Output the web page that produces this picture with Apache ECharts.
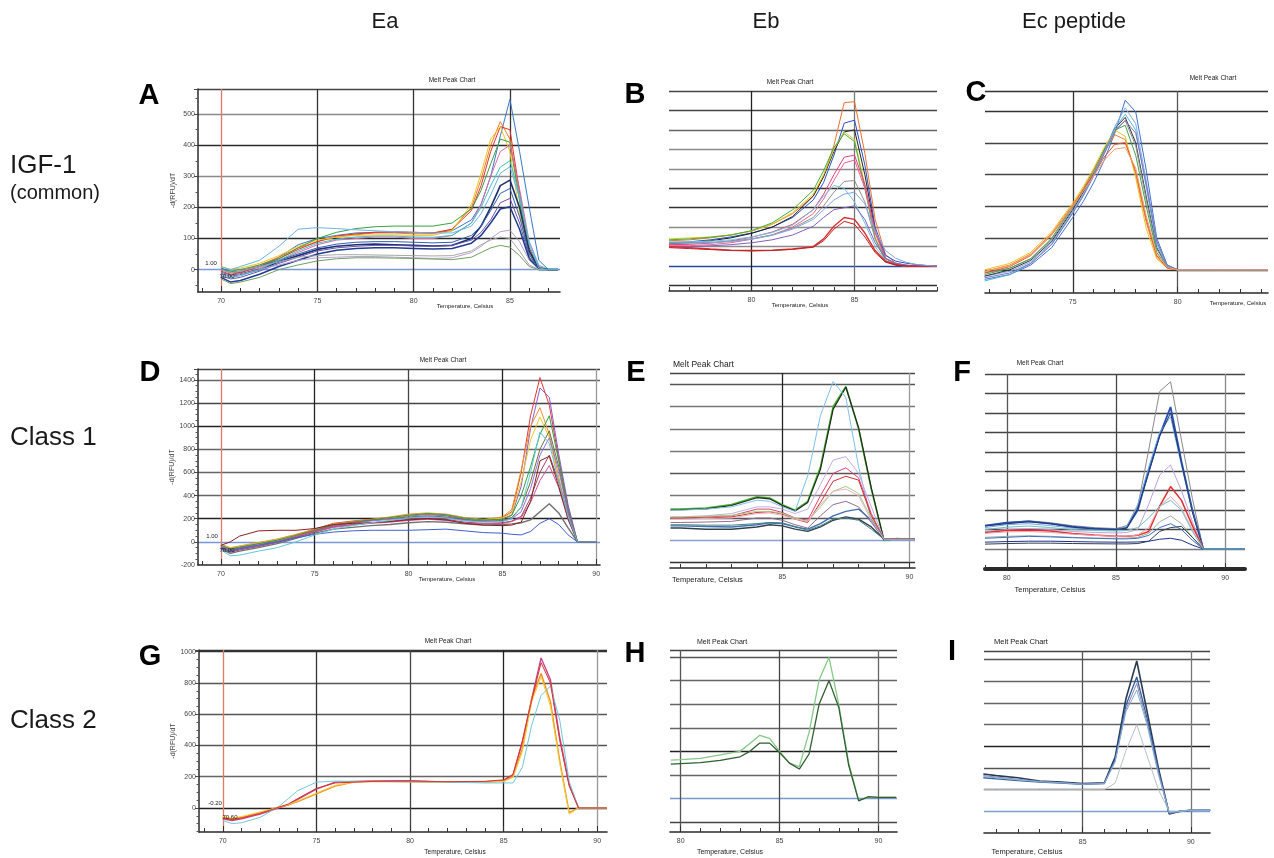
<!DOCTYPE html>
<html><head><meta charset="utf-8">
<script src="https://cdn.jsdelivr.net/npm/echarts@6/dist/echarts.min.js"></script>
<style>html,body{margin:0;padding:0;background:#fff}#c{width:1274px;height:858px}</style>
</head><body><div id="c"></div>
<script>
// ================= DATA =================
// ---- Panel A (IGF-1 / Ea) ----
const tempsA = [70, 70.5, 71, 72, 73, 74, 75, 76, 77, 78, 79, 80, 81, 82, 83, 83.5, 84, 84.5, 85, 85.5, 86, 86.5, 87, 87.5];
const A1 = [5, -5, -10, 10, 40, 80, 100, 110, 118, 120, 120, 118, 118, 125, 160, 210, 300, 430, 548, 380, 200, 30, 0, 0];
const A2 = [0, -10, -5, 15, 40, 70, 90, 105, 112, 118, 118, 115, 115, 130, 200, 290, 400, 476, 420, 230, 60, 5, 0, 0];
const A3 = [-5, -15, -10, 10, 35, 65, 90, 108, 115, 120, 122, 120, 118, 130, 190, 270, 380, 460, 450, 250, 70, 5, 0, 0];
const A4 = [10, 0, 5, 20, 45, 75, 95, 105, 110, 112, 112, 110, 110, 125, 210, 310, 420, 460, 380, 180, 40, 0, 0, 0];
const A5 = [0, -5, 0, 15, 35, 70, 100, 120, 132, 138, 140, 140, 140, 150, 195, 255, 340, 420, 410, 220, 50, 0, 0, 0];
const A6 = [-10, -20, -15, 5, 30, 55, 80, 95, 100, 105, 105, 100, 100, 110, 150, 210, 300, 380, 400, 260, 90, 10, 0, 0];
const A7 = [10, 0, 10, 30, 75, 130, 135, 132, 128, 125, 122, 120, 118, 118, 140, 180, 240, 310, 331, 230, 90, 15, 0, 0];
const A8 = [-10, -20, -15, 0, 25, 45, 65, 75, 80, 82, 80, 78, 76, 78, 100, 140, 200, 270, 288, 200, 60, 5, 0, 0];
const A9 = [0, -10, -5, 10, 30, 50, 70, 82, 88, 90, 90, 88, 86, 88, 110, 140, 190, 245, 261, 170, 50, 0, 0, 0];
const A10 = [-20, -30, -25, -5, 20, 40, 60, 70, 75, 78, 78, 76, 75, 78, 95, 120, 160, 215, 229, 150, 40, 0, 0, 0];
const A11 = [-25, -40, -35, -15, 10, 30, 50, 62, 68, 70, 70, 68, 66, 68, 85, 110, 150, 195, 202, 130, 35, 0, 0, 0];
const A12 = [-10, -20, -15, 0, 15, 30, 38, 40, 42, 42, 40, 38, 36, 38, 55, 75, 100, 122, 127, 90, 30, 0, 0, 0];
const A13 = [-30, -45, -40, -25, 0, 15, 28, 35, 38, 38, 37, 36, 34, 32, 40, 55, 70, 78, 72, 45, 10, 0, 0, 0];
const A14 = [0, -10, -5, 10, 25, 40, 45, 48, 48, 47, 46, 45, 44, 45, 60, 80, 95, 105, 100, 60, 15, 0, 0, 0];
const A15 = [-15, -25, -20, 0, 30, 60, 85, 98, 105, 108, 108, 105, 104, 110, 150, 200, 270, 330, 350, 240, 80, 5, 0, 0];
const xLabelsA = [70, 75, 80, 85];
const yLabelsA = [0, 100, 200, 300, 400, 500];

// ---- Panel B (IGF-1 / Eb) ----
const tempsB = [76, 77, 78, 79, 80, 81, 82, 83, 83.5, 84, 84.5, 85, 85.5, 86, 86.5, 87, 87.5, 88, 88.5, 89];
const B1 = [130, 135, 145, 160, 180, 215, 270, 360, 460, 620, 840, 845, 580, 240, 60, 15, 5, 0, 0, 0];
const B2 = [120, 125, 135, 150, 170, 200, 250, 340, 430, 570, 735, 750, 520, 200, 55, 25, 15, 8, 3, 0];
const B3 = [115, 120, 130, 145, 168, 200, 255, 360, 460, 590, 690, 700, 470, 180, 40, 10, 3, 0, 0, 0];
const B4 = [140, 145, 150, 160, 180, 215, 275, 370, 470, 600, 690, 650, 420, 150, 30, 5, 0, 0, 0, 0];
const B5 = [135, 140, 148, 160, 182, 222, 290, 390, 490, 610, 680, 640, 400, 140, 25, 5, 0, 0, 0, 0];
const B6 = [110, 112, 118, 130, 148, 175, 215, 290, 370, 470, 560, 570, 420, 180, 40, 10, 0, 0, 0, 0];
const B7 = [105, 105, 110, 120, 138, 160, 200, 270, 345, 440, 530, 545, 400, 170, 40, 10, 0, 0, 0, 0];
const B8 = [120, 120, 122, 128, 140, 160, 195, 250, 310, 380, 435, 440, 330, 140, 40, 10, 0, 0, 0, 0];
const B9 = [125, 125, 128, 135, 150, 172, 210, 290, 360, 415, 400, 330, 220, 100, 30, 10, 5, 0, 0, 0];
const B10 = [100, 100, 104, 110, 120, 135, 160, 205, 250, 290, 300, 310, 240, 120, 40, 15, 5, 0, 0, 0];
const B11 = [100, 95, 88, 82, 80, 82, 88, 100, 140, 205, 250, 240, 170, 80, 25, 8, 0, 0, 0, 0];
const B12 = [95, 90, 85, 80, 78, 80, 86, 97, 130, 190, 230, 215, 150, 70, 20, 5, 0, 0, 0, 0];
const B13 = [118, 118, 120, 126, 138, 158, 190, 240, 290, 340, 370, 380, 320, 180, 80, 40, 20, 8, 3, 0];
const xLabelsB = [80, 85];

// ---- Panel C (IGF-1 / Ec peptide) ----
const tempsC = [70.8, 72, 73, 74, 75, 75.5, 76, 76.5, 77, 77.5, 78, 78.5, 79, 79.5, 80, 81, 82, 83, 84.3];
const C1 = [-30, -15, 15, 70, 165, 215, 275, 345, 430, 534, 497, 314, 100, 15, 0, 0, 0, 0, 0];
const C2 = [-20, -5, 25, 85, 185, 240, 300, 370, 450, 510, 460, 280, 90, 15, 0, 0, 0, 0, 0];
const C3 = [-20, 0, 30, 90, 190, 245, 305, 375, 445, 480, 400, 230, 70, 10, 0, 0, 0, 0, 0];
const C4 = [-10, 5, 35, 95, 195, 250, 308, 375, 440, 470, 390, 220, 65, 10, 0, 0, 0, 0, 0];
const C5 = [-15, 5, 35, 100, 200, 255, 315, 380, 440, 455, 360, 200, 55, 8, 0, 0, 0, 0, 0];
const C6 = [-5, 15, 50, 115, 205, 255, 310, 370, 425, 410, 300, 150, 40, 5, 0, 0, 0, 0, 0];
const C7 = [0, 20, 55, 120, 210, 262, 320, 385, 440, 420, 290, 130, 35, 5, 0, 0, 0, 0, 0];
const C8 = [-10, 10, 45, 110, 200, 250, 300, 355, 395, 400, 310, 160, 45, 5, 0, 0, 0, 0, 0];
const C9 = [-35, -15, 20, 80, 180, 235, 300, 370, 445, 490, 440, 260, 80, 12, 0, 0, 0, 0, 0];
const C10 = [-25, -10, 20, 80, 178, 232, 295, 365, 435, 470, 430, 270, 90, 15, 0, 0, 0, 0, 0];
const C11 = [-5, 12, 48, 112, 200, 248, 295, 345, 380, 385, 320, 170, 50, 8, 0, 0, 0, 0, 0];
const xLabelsC = [75, 80];

// ---- Panel D (Class 1 / Ea) ----
const tempsD = [70, 70.5, 71, 72, 73, 74, 75, 76, 77, 78, 79, 80, 81, 82, 83, 84, 85, 85.5, 86, 86.5, 87, 87.5, 88, 88.5, 89, 89.5, 90];
const D1 = [-30, -60, -40, -10, 20, 60, 110, 160, 180, 195, 210, 230, 240, 230, 200, 190, 210, 260, 600, 1090, 1420, 1180, 720, 300, 0, 0, 0];
const D2 = [-40, -70, -50, -15, 15, 55, 100, 150, 170, 190, 205, 225, 235, 225, 195, 185, 200, 230, 480, 980, 1330, 1250, 760, 320, 0, 0, 0];
const D3 = [-20, -50, -35, -5, 25, 65, 110, 155, 175, 195, 215, 240, 250, 240, 210, 195, 215, 280, 620, 1000, 1160, 930, 560, 220, 0, 0, 0];
const D4 = [-25, -55, -40, -10, 20, 55, 95, 140, 165, 185, 205, 230, 245, 235, 205, 190, 205, 250, 520, 880, 1080, 900, 520, 200, 0, 0, 0];
const D5 = [-30, -60, -45, -15, 15, 55, 100, 145, 170, 190, 210, 230, 245, 235, 205, 190, 195, 230, 400, 650, 930, 1090, 700, 280, 0, 0, 0];
const D6 = [-40, -70, -55, -25, 5, 45, 95, 140, 165, 185, 200, 215, 225, 215, 190, 180, 185, 210, 300, 520, 800, 960, 650, 260, 0, 0, 0];
const D7 = [-35, -75, -60, -30, 0, 40, 90, 135, 160, 180, 195, 210, 220, 210, 185, 175, 180, 200, 260, 460, 750, 900, 620, 250, 0, 0, 0];
const D8 = [-50, -90, -70, -40, -5, 40, 85, 130, 150, 165, 180, 195, 205, 195, 170, 160, 165, 180, 220, 380, 600, 750, 520, 220, 0, 0, 0];
const D9 = [-45, -85, -65, -35, 0, 45, 90, 125, 145, 160, 170, 185, 195, 185, 165, 155, 160, 175, 210, 340, 530, 660, 470, 190, 0, 0, 0];
const D10 = [-60, -100, -80, -50, -15, 30, 75, 110, 125, 140, 150, 165, 175, 170, 155, 145, 150, 155, 165, 190, 260, 330, 250, 120, 0, 0, 0];
const D11 = [-50, -80, -60, -30, 0, 35, 65, 85, 95, 100, 100, 100, 105, 110, 95, 80, 75, 65, 60, 90, 160, 200, 150, 60, 0, 0, 0];
const D12 = [-30, 0, 50, 95, 100, 100, 115, 150, 160, 165, 175, 190, 200, 190, 160, 145, 140, 145, 170, 350, 700, 740, 480, 200, 0, 0, 0];
const D13 = [-70, -120, -115, -80, -50, 0, 60, 110, 140, 165, 185, 205, 215, 205, 180, 170, 175, 200, 300, 600, 950, 850, 520, 220, 0, 0, 0];
const xLabelsD = [70, 75, 80, 85, 90];
const yLabelsD = [-200, 0, 200, 400, 600, 800, 1000, 1200, 1400];

// ---- Panel E (Class 1 / Eb) ----
const tempsE = [80.6, 81, 82, 83, 84, 84.5, 85, 85.5, 86, 86.5, 87, 87.5, 88, 88.5, 89, 89.5, 90, 90.2];
const E1 = [140, 140, 145, 160, 195, 190, 160, 135, 175, 330, 600, 690, 500, 230, 0, 8, 5, 5];
const E2 = [136, 137, 141, 156, 191, 186, 156, 132, 170, 318, 588, 686, 505, 235, 0, 8, 5, 5];
const E3 = [135, 135, 140, 150, 180, 175, 150, 130, 290, 560, 712, 640, 330, 90, 0, 5, 5, 5];
const E4 = [105, 105, 110, 120, 150, 150, 140, 120, 140, 250, 360, 375, 300, 150, 5, 5, 5, 5];
const E5 = [100, 100, 105, 110, 140, 140, 125, 100, 90, 200, 300, 325, 280, 120, 5, 5, 5, 5];
const E6 = [100, 100, 100, 105, 125, 128, 118, 95, 80, 170, 265, 287, 270, 110, 5, 5, 5, 5];
const E7 = [105, 105, 108, 112, 130, 130, 120, 100, 85, 150, 220, 242, 210, 100, 5, 5, 5, 5];
const E8 = [80, 80, 82, 85, 100, 100, 90, 70, 55, 110, 160, 175, 150, 80, 5, 5, 5, 5];
const E9 = [65, 65, 62, 60, 70, 78, 75, 60, 50, 75, 110, 130, 140, 90, 5, 5, 5, 5];
const E10 = [55, 55, 50, 50, 60, 70, 65, 50, 40, 60, 90, 105, 95, 60, 5, 5, 5, 5];
const E11 = [70, 70, 68, 68, 75, 80, 78, 62, 45, 65, 95, 100, 90, 50, 5, 5, 5, 5];
const E12 = [95, 95, 98, 100, 120, 122, 112, 95, 85, 160, 220, 230, 200, 90, 5, 5, 5, 5];
const xLabelsE = [85, 90];

// ---- Panel F (Class 1 / Ec peptide) ----
const tempsF = [79, 80, 81, 82, 83, 84, 85, 85.5, 86, 86.5, 87, 87.5, 88, 88.5, 89, 90, 90.9];
const F1 = [120, 135, 145, 135, 120, 110, 105, 120, 220, 510, 810, 860, 560, 260, 0, 0, 0];
const F2 = [120, 135, 142, 130, 115, 105, 100, 110, 200, 405, 585, 730, 450, 200, 0, 0, 0];
const F3 = [110, 125, 130, 120, 108, 100, 98, 115, 230, 420, 600, 680, 430, 190, 0, 0, 0];
const F4 = [118, 130, 140, 130, 112, 103, 100, 108, 210, 390, 580, 700, 440, 190, 0, 0, 0];
const F5 = [90, 100, 105, 100, 90, 85, 82, 85, 100, 230, 380, 432, 300, 140, 0, 0, 0];
const F6 = [85, 95, 97, 92, 80, 72, 65, 65, 70, 90, 220, 321, 250, 120, 0, 0, 0];
const F7 = [80, 88, 90, 85, 76, 70, 65, 66, 72, 110, 220, 270, 210, 100, 0, 0, 0];
const F8 = [60, 65, 68, 65, 60, 56, 55, 56, 60, 80, 140, 170, 130, 60, 0, 0, 0];
const F9 = [25, 28, 30, 30, 28, 27, 26, 26, 28, 40, 90, 110, 116, 60, 0, 0, 0];
const F10 = [35, 38, 40, 40, 38, 36, 35, 35, 36, 40, 50, 55, 45, 20, 0, 0, 0];
const F11 = [55, 60, 65, 62, 58, 55, 52, 52, 55, 70, 110, 130, 100, 45, 0, 0, 0];
const F12 = [100, 112, 118, 110, 100, 95, 92, 95, 110, 160, 220, 250, 200, 90, 0, 0, 0];
const xLabelsF = [80, 85, 90];

// ---- Panel G (Class 2 / Ea) ----
const tempsG = [70, 70.5, 71, 72, 73, 73.5, 74, 75, 76, 77, 78, 80, 82, 84, 85, 85.5, 86, 86.5, 87, 87.5, 88, 88.5, 89, 90.5];
const G1 = [-70, -80, -70, -40, 0, 20, 55, 120, 165, 170, 172, 175, 165, 168, 175, 210, 420, 700, 960, 820, 450, 150, 0, 0];
const G2 = [-60, -70, -60, -30, 5, 20, 40, 90, 140, 165, 170, 168, 165, 165, 170, 200, 380, 700, 860, 680, 300, -30, 0, 0];
const G3 = [-55, -65, -55, -25, 5, 22, 45, 95, 145, 165, 170, 168, 165, 165, 170, 195, 360, 680, 840, 650, 280, -40, 0, 0];
const G4 = [-80, -100, -95, -60, 10, 60, 110, 165, 172, 170, 170, 168, 165, 160, 160, 160, 260, 530, 720, 780, 560, 170, 0, 0];
const G5 = [-65, -75, -65, -35, 5, 25, 60, 125, 160, 165, 170, 172, 168, 170, 180, 215, 430, 690, 930, 800, 430, 140, 0, 0];
const xLabelsG = [70, 75, 80, 85, 90];
const yLabelsG = [0, 200, 400, 600, 800, 1000];

// ---- Panel H (Class 2 / Eb) ----
const tempsH = [79.5, 80, 81, 82, 83, 83.5, 84, 84.5, 85, 85.5, 86, 86.5, 87, 87.5, 88, 88.5, 89, 89.5, 90, 90.9];
const H1 = [163, 165, 170, 185, 200, 233, 268, 255, 200, 150, 135, 283, 503, 599, 397, 150, -7, 5, 5, 5];
const H2 = [146, 148, 152, 162, 177, 200, 235, 235, 195, 150, 125, 190, 400, 500, 385, 140, -10, 8, 5, 5];
const xLabelsH = [80, 85, 90];

// ---- Panel I (Class 2 / Ec peptide) ----
const tempsI = [80.4, 81, 82, 83, 84, 85, 86, 86.5, 87, 87.5, 88, 88.5, 89, 89.5, 90, 90.9];
const I1 = [172, 165, 155, 140, 135, 128, 132, 250, 520, 694, 450, 200, -12, 0, 5, 5];
const I2 = [155, 150, 142, 135, 130, 125, 128, 240, 490, 620, 420, 190, -10, 0, 5, 5];
const I3 = [165, 158, 148, 138, 132, 126, 130, 230, 470, 590, 400, 180, -8, 0, 5, 5];
const I4 = [100, 100, 100, 100, 100, 100, 100, 130, 280, 400, 250, 100, 0, 0, 5, 5];
const I5 = [160, 155, 145, 137, 132, 125, 128, 230, 460, 560, 390, 170, -5, 0, 5, 5];
const xLabelsI = [85, 90];

// ---- Text ----
const columnTitles = ['Ea', 'Eb', 'Ec peptide'];
const rowTitles = ['IGF-1', '(common)', 'Class 1', 'Class 2'];
const panelLetters = ['A', 'B', 'C', 'D', 'E', 'F', 'G', 'H', 'I'];

// ================= LAYOUT / STYLE =================
const FONT = '"Liberation Sans", Arial, sans-serif';
const BLUE0 = '#7b96d6', RED = '#e07a66';
const panels = [
  { g: [198, 89, 362, 203], x: [68.8, 87.6], y: [-72, 581], t: tempsA,
    xT: xLabelsA, xC: [RED, '#333', '#333', '#333'], xL: xLabelsA,
    yT: [0, 100, 200, 300, 400, 500, 581], yC: [BLUE0, '#2a2a2a', '#2a2a2a', '#8a8a8a', '#2a2a2a', '#8a8a8a', '#444'],
    yL: yLabelsA, yLine: true, yName: '-d(RFU)/dT', yMinor: [-50, 50, 150, 250, 350, 450, 550],
    c: [['#3a78c8', A1], ['#f07a28', A2], ['#e0302a', A3], ['#f0c818', A4], ['#3aa040', A5], ['#e066a8', A6], ['#6ab4e8', A7],
        ['#1c2f6e', A8, 1.6], ['#3060b0', A9], ['#7050b0', A10], ['#203c90', A11, 1.5], ['#b8a0d0', A12], ['#70a060', A13], ['#a8a8a8', A14], ['#40c0c8', A15]] },
  { g: [669, 91, 268, 200], x: [76, 89], y: [-128, 900], t: tempsB,
    xT: xLabelsB, xC: ['#222', '#777'], xL: xLabelsB,
    yT: [-100, 0, 100, 200, 300, 400, 500, 600, 700, 800, 900], yC: ['#333', '#2848a0', '#8a8a8a', '#8a8a8a', '#333', '#333', '#8a8a8a', '#8a8a8a', '#666', '#444', '#444'],
    yLine: false,
    c: [['#f07030', B1], ['#2850c8', B2], ['#202020', B3], ['#e8c820', B4], ['#40b040', B5], ['#e04080', B6], ['#f06090', B7], ['#909090', B8],
        ['#70c8e0', B9], ['#8060c0', B10], ['#d83030', B11, 1.4], ['#c02020', B12], ['#80a8e0', B13]] },
  { g: [985, 91, 283, 202], x: [70.82, 84.3], y: [-73, 563], t: tempsC,
    xT: xLabelsC, xC: ['#333', '#555'], xL: xLabelsC,
    yT: [0, 100, 200, 300, 400, 500, 563], yC: ['#333', '#444', '#444', '#444', '#444', '#333', '#333'],
    yLine: false,
    c: [['#4070d0', C1], ['#80a8e8', C2], ['#303030', C3], ['#909090', C4], ['#40a050', C5], ['#f08030', C6], ['#f0c020', C7],
        ['#e05030', C8], ['#50b8d0', C9], ['#8070c0', C10], ['#f0a070', C11]] },
  { g: [198, 369, 402, 196], x: [68.78, 90.2], y: [-200, 1494], t: tempsD,
    xT: xLabelsD, xC: [RED, '#222', '#444', '#222', '#999'], xL: xLabelsD,
    yT: [0, 200, 400, 600, 800, 1000, 1200, 1400, 1494], yC: [BLUE0, '#222', '#666', '#666', '#666', '#222', '#444', '#666', '#444'],
    yL: yLabelsD, yLine: true, yName: '-d(RFU)/dT',
    yMinor: [-150, -100, -50, 50, 100, 150, 250, 300, 350, 450, 500, 550, 650, 700, 750, 850, 900, 950, 1050, 1100, 1150, 1250, 1300, 1350, 1450],
    c: [['#e03838', D1], ['#8a5ad0', D2], ['#f09030', D3], ['#f0c828', D4], ['#30a040', D5], ['#707030', D6], ['#9070e0', D7],
        ['#a04060', D8], ['#d0509a', D9], ['#707070', D10, 1.4], ['#4060d0', D11], ['#8a2020', D12], ['#60c8d8', D13]] },
  { g: [670, 373, 245, 195], x: [80.58, 90.22], y: [-124, 750], t: tempsE,
    xT: xLabelsE, xC: ['#222', '#999'], xL: xLabelsE,
    yT: [-100, 0, 100, 200, 300, 400, 500, 600, 700, 750], yC: ['#333', '#8aa0d0', '#555', '#777', '#555', '#777', '#777', '#777', '#555', '#444'],
    yLine: false,
    c: [['#48b030', E1, 1.6], ['#1e2a1e', E2, 1.2], ['#80c0e8', E3], ['#c0b0e0', E4], ['#e04070', E5], ['#d03030', E6], ['#a0d080', E7],
        ['#907090', E8], ['#4070b0', E9, 1.4], ['#304050', E10, 1.4], ['#408080', E11], ['#f0b0c0', E12]] },
  { g: [985, 374, 260, 195], x: [79, 90.91], y: [-103, 900], t: tempsF,
    xT: xLabelsF, xC: ['#555', '#444', '#888'], xL: xLabelsF,
    yT: [0, 100, 200, 300, 400, 500, 600, 700, 800, 900], yC: ['#777', '#444', '#444', '#444', '#444', '#444', '#444', '#444', '#444', '#444'],
    yLine: false, axW: 4,
    c: [['#8a8a8a', F1], ['#2850b0', F2, 1.8], ['#70a8e0', F3], ['#203878', F4], ['#c0a0d8', F5], ['#e03030', F6, 1.5], ['#f0a0b0', F7],
        ['#a0b0a0', F8], ['#304050', F9], ['#203090', F10], ['#4070c0', F11], ['#70c0c0', F12]] },
  { g: [199, 650, 408, 182], x: [68.73, 90.52], y: [-154, 1011], t: tempsG,
    xT: xLabelsG, xC: [RED, '#333', '#444', '#222', '#999'], xL: xLabelsG,
    yT: [0, 200, 400, 600, 800, 1000, 1011], yC: ['#222', '#666', '#555', '#555', '#555', '#333', '#333'],
    yL: yLabelsG, yLine: true, yName: '-d(RFU)/dT',
    yMinor: [-150, -100, -50, 50, 100, 150, 250, 300, 350, 450, 500, 550, 650, 700, 750, 850, 900, 950],
    c: [['#c04890', G1, 1.4], ['#f09020', G2, 1.4], ['#f0d040', G3], ['#70c8d8', G4], ['#e03030', G5]] },
  { g: [670, 650, 227, 182], x: [79.46, 90.94], y: [-142, 630], t: tempsH,
    xT: xLabelsH, xC: ['#555', '#444', '#666'], xL: xLabelsH,
    yT: [-100, 0, 100, 200, 300, 400, 500, 600, 630], yC: ['#444', '#7898d0', '#666', '#222', '#666', '#666', '#666', '#555', '#444'],
    yLine: false,
    c: [['#86c886', H1, 1.3], ['#2f5f2f', H2, 1.3]] },
  { g: [984, 651, 226, 182], x: [80.43, 90.89], y: [-100, 740], t: tempsI,
    xT: xLabelsI, xC: ['#555', '#777'], xL: xLabelsI,
    yT: [0, 100, 200, 300, 400, 500, 600, 700, 740], yC: ['#80a0d0', '#555', '#555', '#222', '#666', '#666', '#666', '#555', '#444'],
    yLine: false,
    c: [['#2a3a50', I1, 1.6], ['#3060a0', I2, 1.3], ['#9080b0', I3], ['#b8c0c8', I4], ['#80b0d8', I5]] }
];

const plain = v => String(v);
const grid = [], xAxis = [], yAxis = [], series = [];
panels.forEach((p, i) => {
  grid.push({ left: p.g[0], top: p.g[1], width: p.g[2], height: p.g[3], show: false });
  const xi = xAxis.length;
  xAxis.push({
    type: 'value', gridIndex: i, min: p.x[0], max: p.x[1], position: 'bottom',
    axisLine: { show: true, onZero: false, lineStyle: { color: '#2a2a2a', width: p.axW || 1.6 } },
    axisTick: { show: true, inside: true, length: 6, customValues: p.xT, lineStyle: { color: '#333', width: 1 } },
    axisLabel: { show: true, customValues: p.xL, formatter: plain, fontSize: 7, color: '#444', margin: 6, fontFamily: FONT },
    splitLine: { show: true, lineStyle: { color: p.xC, width: 1.3 } }
  });
  const minor = [];
  for (let v = Math.ceil(p.x[0]); v <= Math.floor(p.x[1]); v++) minor.push(v);
  xAxis.push({
    type: 'value', gridIndex: i, min: p.x[0], max: p.x[1], position: 'bottom',
    axisLine: { show: false, onZero: false },
    axisTick: { show: true, inside: true, length: 4, customValues: minor, lineStyle: { color: '#333', width: 1 } },
    axisLabel: { show: false }, splitLine: { show: false }
  });
  const yi = yAxis.length;
  yAxis.push({
    type: 'value', gridIndex: i, min: p.y[0], max: p.y[1], position: 'left',
    axisLine: { show: p.yLine, onZero: false, lineStyle: { color: '#2a2a2a', width: 1.5 } },
    axisTick: { show: p.yLine, length: 4, customValues: p.yT, lineStyle: { color: '#444' } },
    axisLabel: { show: !!p.yL, customValues: p.yL || [], formatter: plain, fontSize: 7, color: '#444', margin: 3, fontFamily: FONT },
    splitLine: { show: true, lineStyle: { color: p.yC, width: 1.4 } },
    name: p.yName || '', nameLocation: 'middle', nameGap: 21, nameRotate: 90,
    nameTextStyle: { fontSize: 7, color: '#444', fontFamily: FONT }
  });
  if (p.yMinor) {
    yAxis.push({
      type: 'value', gridIndex: i, min: p.y[0], max: p.y[1], position: 'left',
      axisLine: { show: false, onZero: false },
      axisTick: { show: true, length: 2.5, customValues: p.yMinor, lineStyle: { color: '#555' } },
      axisLabel: { show: false }, splitLine: { show: false }
    });
  }
  p.c.forEach(([color, vals, w]) => {
    series.push({
      type: 'line', xAxisIndex: xi, yAxisIndex: yi,
      data: p.t.map((t, k) => [t, vals[k]]),
      showSymbol: false, symbol: 'none', silent: true, animation: false,
      lineStyle: { color: color, width: w || 1 }, itemStyle: { color: color }, z: 3
    });
  });
});

function txt(x, y, s, size, opt) {
  opt = opt || {};
  return { type: 'text', x: x, y: y, z: 100, silent: true,
    style: { text: s, font: (opt.bold ? 'bold ' : '') + size + 'px ' + FONT, fill: opt.fill || '#1a1a1a',
             align: opt.align || 'center', verticalAlign: 'middle' } };
}
const graphic = [
  txt(385, 22, columnTitles[0], 22), txt(766, 22, columnTitles[1], 22), txt(1074, 22, columnTitles[2], 22),
  txt(10, 166, rowTitles[0], 26, { align: 'left' }), txt(10, 193, rowTitles[1], 20, { align: 'left' }),
  txt(10, 438, rowTitles[2], 26, { align: 'left' }), txt(10, 721, rowTitles[3], 26, { align: 'left' }),
  txt(149, 96, panelLetters[0], 29, { bold: true, fill: '#000' }), txt(635, 95, panelLetters[1], 29, { bold: true, fill: '#000' }),
  txt(976, 93, panelLetters[2], 29, { bold: true, fill: '#000' }), txt(150, 373, panelLetters[3], 29, { bold: true, fill: '#000' }),
  txt(636, 373, panelLetters[4], 29, { bold: true, fill: '#000' }), txt(962, 373, panelLetters[5], 29, { bold: true, fill: '#000' }),
  txt(150, 657, panelLetters[6], 29, { bold: true, fill: '#000' }), txt(635, 654, panelLetters[7], 29, { bold: true, fill: '#000' }),
  txt(952, 652, panelLetters[8], 29, { bold: true, fill: '#000' }),
  // small chart captions
  txt(452, 80, 'Melt Peak Chart', 6.5), txt(790, 82, 'Melt Peak Chart', 6.5), txt(1213, 78, 'Melt Peak Chart', 6.5),
  txt(443, 360, 'Melt Peak Chart', 6.5), txt(673, 365, 'Melt Peak Chart', 8.5, { align: 'left' }), txt(1040, 363, 'Melt Peak Chart', 6.5),
  txt(448, 641, 'Melt Peak Chart', 6.5), txt(722, 642, 'Melt Peak Chart', 7), txt(1021, 642, 'Melt Peak Chart', 7.5),
  txt(465, 306, 'Temperature, Celsius', 6), txt(800, 305, 'Temperature, Celsius', 6), txt(1238, 303, 'Temperature, Celsius', 6),
  txt(447, 579, 'Temperature, Celsius', 6), txt(672, 580, 'Temperature, Celsius', 7.5, { align: 'left' }), txt(1050, 590, 'Temperature, Celsius', 7.5),
  txt(455, 852, 'Temperature, Celsius', 6.5), txt(730, 852, 'Temperature, Celsius', 7), txt(1027, 852, 'Temperature, Celsius', 7.5),
  // threshold annotations
  txt(211, 263, '1.00', 6), txt(227, 276, '70.00', 6),
  txt(212, 536, '1.00', 6), txt(227, 550, '70.00', 6),
  txt(215, 803, '-0.20', 6), txt(230, 817, '70.60', 6)
];

const chart = echarts.init(document.getElementById('c'), null, { renderer: 'canvas' });
chart.setOption({ animation: false, backgroundColor: '#ffffff', grid, xAxis, yAxis, series, graphic });
</script>
</body></html>
